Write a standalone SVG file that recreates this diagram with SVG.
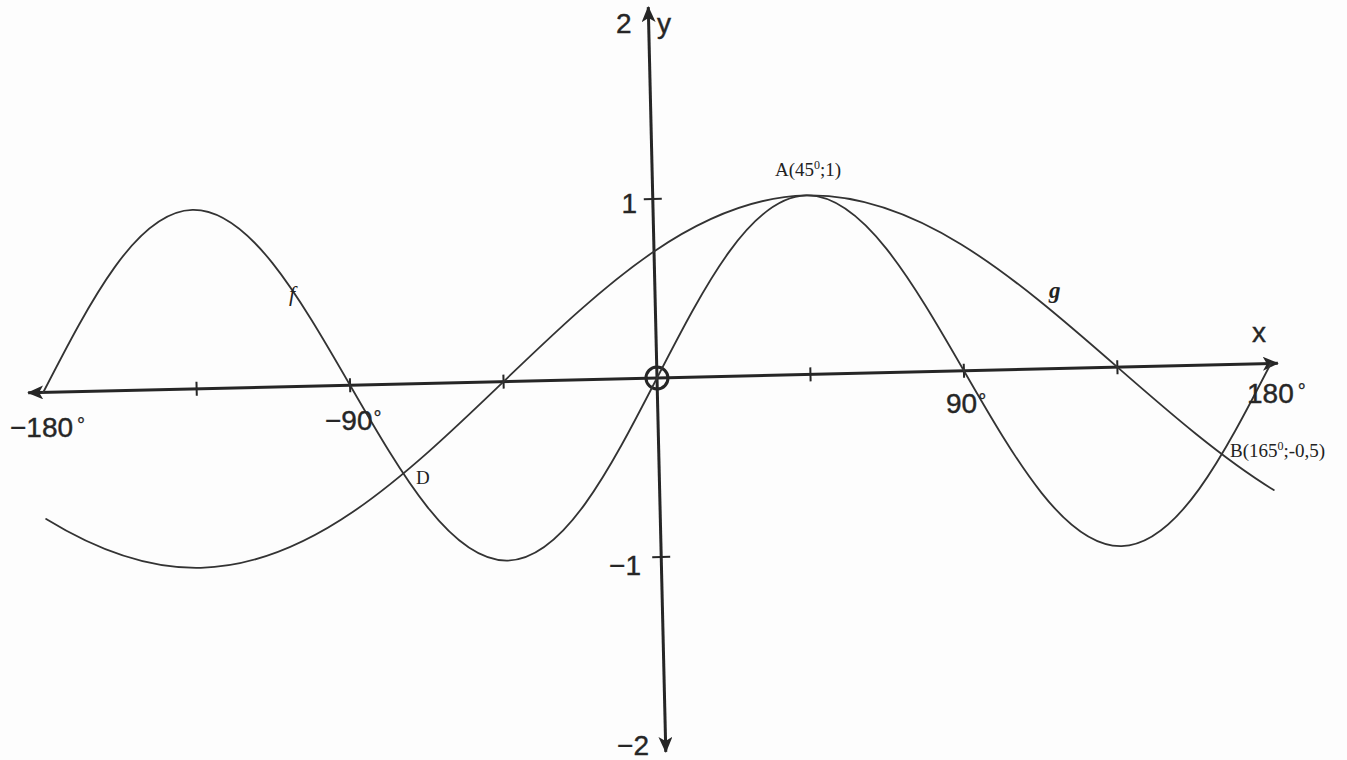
<svg xmlns="http://www.w3.org/2000/svg" width="1347" height="760" viewBox="0 0 1347 760">
  <defs>
    <marker id="arrow" markerUnits="userSpaceOnUse" markerWidth="18" markerHeight="16" refX="15" refY="7" orient="auto-start-reverse">
      <path d="M0,0 L16,7 L0,14 L4,7 z" fill="#262626"/>
    </marker>
    <style>
      .axis { stroke: #262626; stroke-width: 3; fill: none; }
      .tick { stroke: #262626; stroke-width: 2; }
      .curve { stroke: #333333; stroke-width: 1.8; fill: none; stroke-linecap: round; }
      .lbl { font-family: "Liberation Sans", Arial, sans-serif; font-size: 28px; fill: #262626; stroke: #262626; stroke-width: 0.4; }
      .deg { font-size: 20px; stroke-width: 0.3; }
      .pt { font-family: "Liberation Serif", "Times New Roman", serif; font-size: 19px; fill: #222; }
      .fn { font-family: "Liberation Serif", "Times New Roman", serif; font-style: italic; fill: #222; }
    </style>
  </defs>
  <rect x="0" y="0" width="1347" height="760" fill="#fdfdfd"/>

  <g id="plot" transform="rotate(-1.35 657 378)">
    <g id="axes">
      <line class="axis" x1="28" y1="378" x2="1278" y2="378" marker-start="url(#arrow)" marker-end="url(#arrow)"/>
      <line class="axis" x1="657" y1="752" x2="657" y2="7" stroke-width="2.5" marker-start="url(#arrow)" marker-end="url(#arrow)"/>
      <g id="x-ticks">
        <line class="tick" x1="196.5" y1="371" x2="196.5" y2="385"/>
        <line class="tick" x1="350" y1="371" x2="350" y2="385"/>
        <line class="tick" x1="503.5" y1="371" x2="503.5" y2="385"/>
        <line class="tick" x1="810.5" y1="371" x2="810.5" y2="385"/>
        <line class="tick" x1="964" y1="371" x2="964" y2="385"/>
        <line class="tick" x1="1117.5" y1="371" x2="1117.5" y2="385"/>
      </g>
      <g id="y-ticks">
        <line class="tick" x1="648" y1="199" x2="666" y2="199"/>
        <line class="tick" x1="648" y1="557" x2="666" y2="557"/>
      </g>
      <circle id="origin" cx="657" cy="378" r="11" fill="none" stroke="#262626" stroke-width="3"/>
    </g>
    <g id="curves">
      <path id="curve-f" class="curve" d="M43,378 C93.06,286.3 140.95,199 196.5,199 C252.05,199 299.94,286.3 350,378 C400.06,469.7 447.95,557 503.5,557 C559.05,557 606.94,469.7 657,378 C707.06,286.3 754.95,199 810.5,199 C866.05,199 913.94,286.3 964,378 C1014.06,469.7 1061.95,557 1117.5,557 C1173.05,557 1220.94,469.7 1271,378"/>
      <path id="curve-g" class="curve" d="M43,504.57 C94.17,537.71 145.33,557 196.5,557 C247.67,557 298.83,537.71 350,504.57 C401.17,471.43 452.33,424.87 503.5,378 C554.67,331.13 605.83,284.57 657,251.43 C708.17,218.29 759.33,199 810.5,199 C861.67,199 912.83,218.29 964,251.43 C1015.17,284.57 1066.33,331.13 1117.5,378 C1168.67,424.87 1219.83,471.43 1271,504.57"/>
    </g>
  </g>

  <g id="axis-labels">
    <text class="lbl" x="616" y="33">2</text>
    <text class="lbl" x="657" y="33">y</text>
    <text class="lbl" x="637" y="213" text-anchor="end">1</text>
    <text class="lbl" x="641" y="575" text-anchor="end">−1</text>
    <text class="lbl" x="649" y="755" text-anchor="end">−2</text>
    <text class="lbl" x="1252" y="342">x</text>
    <text class="lbl" x="10" y="437">−180<tspan class="deg" dx="4" dy="-5">°</tspan></text>
    <text class="lbl" x="325" y="430">−90<tspan class="deg" dx="1" dy="-5">°</tspan></text>
    <text class="lbl" x="946" y="413">90<tspan class="deg" dx="1" dy="-5">°</tspan></text>
    <text class="lbl" x="1247" y="403">180<tspan class="deg" dx="4" dy="-5">°</tspan></text>
  </g>

  <g id="point-labels">
    <text id="label-A" class="pt" x="775" y="176">A(45<tspan font-size="12" dy="-7">0</tspan><tspan dy="7">;1)</tspan></text>
    <text id="label-B" class="pt" x="1230" y="457">B(165<tspan font-size="12" dy="-7">0</tspan><tspan dy="7">;-0,5)</tspan></text>
    <text id="label-D" class="pt" x="416" y="484">D</text>
    <text id="label-f" class="fn" x="289" y="301" font-size="22">f</text>
    <text id="label-g" class="fn" x="1049" y="298" font-size="23" font-weight="bold">g</text>
  </g>
</svg>
